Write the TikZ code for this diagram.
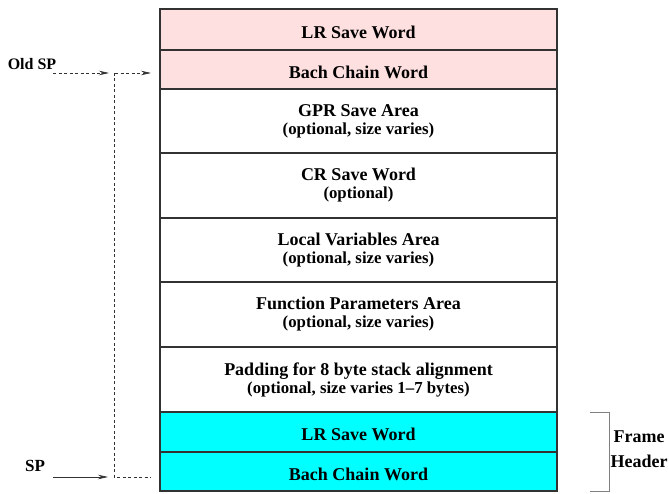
\documentclass[tikz,border=0pt]{standalone}
\usepackage{fontspec}
\setmainfont{Liberation Serif}
\usetikzlibrary{arrows.meta,positioning}

\definecolor{hdrpink}{RGB}{255,224,224}
\definecolor{hdrcyan}{RGB}{0,255,255}
\definecolor{edgegray}{RGB}{50,50,50}
\newcommand{\optnote}[1]{{\fontsize{16.8}{18}\selectfont\bfseries #1}}

\begin{document}
\begin{tikzpicture}[x=1pt,y=-1pt,
		slot/.style={draw=edgegray,line width=1.2pt,minimum width=397pt,inner sep=0pt,outer sep=0pt,
			align=center,font=\fontsize{18}{24}\selectfont\bfseries,
			execute at begin node={\rule{0pt}{18pt}}},
		areaslot/.style={slot,execute at begin node={\rule{0pt}{23pt}}},
		pinkslot/.style={slot,fill=hdrpink},
		cyanslot/.style={slot,fill=hdrcyan},
		lbl/.style={font=\fontsize{18}{25}\selectfont\bfseries},
		ptr/.style={-{Stealth[length=10pt,width=4.5pt]},line width=0.7pt,draw=edgegray},
		dashptr/.style={ptr,dash pattern=on 3pt off 2.5pt},
		link/.style={line width=0.7pt,draw=edgegray,dash pattern=on 3pt off 2.5pt}]
		\useasboundingbox (0,0) rectangle (669,494);
		% frame header of the caller
		\node[pinkslot,minimum height=41pt] (lr1) at (358.5,29.5) {LR Save Word};
		\node[pinkslot,minimum height=39pt,below=0pt of lr1] (bc1) {Bach Chain Word};
		% optional areas
		\node[areaslot,minimum height=64pt,below=0pt of bc1] (gpr) {GPR Save Area\\[-6pt]\optnote{(optional, size varies)}};
		\node[areaslot,minimum height=65pt,below=0pt of gpr] (cr) {CR Save Word\\[-6pt]\optnote{(optional)}};
		\node[areaslot,minimum height=64pt,below=0pt of cr] (loc) {Local Variables Area\\[-6pt]\optnote{(optional, size varies)}};
		\node[areaslot,minimum height=65pt,below=0pt of loc] (par) {Function Parameters Area\\[-6pt]\optnote{(optional, size varies)}};
		\node[areaslot,minimum height=65pt,below=0pt of par] (pad) {Padding for 8 byte stack alignment\\[-6pt]\optnote{(optional, size varies 1--7 bytes)}};
		% frame header
		\node[cyanslot,minimum height=40pt,below=0pt of pad] (lr2) {LR Save Word};
		\node[cyanslot,minimum height=39pt,below=0pt of lr2] (bc2) {Bach Chain Word};
		%\draw[red] (lr1.north west) rectangle (bc2.south east);
		% stack pointers
		\node[font=\fontsize{16}{18}\selectfont\bfseries] (oldsp) at (32,64) {Old SP};
		\node[font=\fontsize{17}{18}\selectfont\bfseries] (sp) at (35,466) {SP};
		\coordinate (oldtail) at (53,73);
		\coordinate (oldbend) at (114,73);
		\coordinate (sptail) at (53,477);
		\coordinate (spbend) at (114,477);
		\coordinate (oldtip) at (151,73);
		\coordinate (sptip) at (151,477);
		\draw[dashptr] (oldtail) -- ([xshift=-5pt]oldbend);
		\draw[dashptr] ([xshift=1pt]oldbend) -- (oldtip);
		\draw[link] (oldbend) -- (spbend) -- (sptip);
		\draw[ptr] (sptail) -- ([xshift=-6pt]spbend);
		% brace for the header
		\coordinate (brtop) at (590,412);
		\coordinate (brbot) at (590,491);
		\draw[line width=0.9pt,draw=gray] (brtop) -- ++(19,0) |- (brbot);
		\node[lbl,align=center] (fhdr) at (639,449) {Frame\\Header};
	\end{tikzpicture}
\end{document}
